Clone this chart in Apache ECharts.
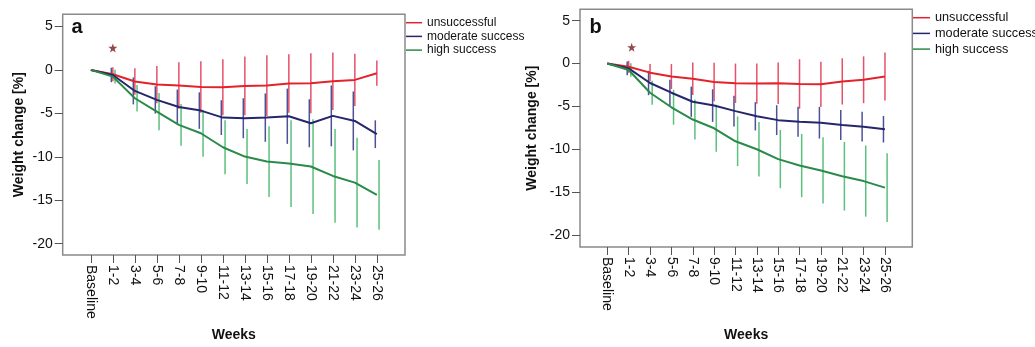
<!DOCTYPE html>
<html>
<head>
<meta charset="utf-8">
<script src="https://cdn.jsdelivr.net/npm/echarts@6/dist/echarts.min.js"></script>
<style>
html,body{margin:0;padding:0;background:#fff;}
#chart{width:1035px;height:347px;}
</style>
</head>
<body>
<div id="chart"></div>
<script>
// ---- data ----
const categories = ['Baseline','1-2','3-4','5-6','7-8','9-10','11-12','13-14','15-16','17-18','19-20','21-22','23-24','25-26'];
const yTicks = [-20, -15, -10, -5, 0, 5];
const seriesNames = ['unsuccessful', 'moderate success', 'high success'];

// panel a
const aUnsuccessful    = [0, -0.5, -1.34, -1.69, -1.8, -1.96, -2.0, -1.84, -1.8, -1.57, -1.53, -1.3, -1.15, -0.38];
const aUnsuccessfulErr = [0, 0.8, 1.53, 2.15, 2.68, 2.96, 3.23, 3.37, 3.5, 3.37, 3.45, 3.3, 3.0, 1.45];
const aModerate        = [0, -0.58, -2.42, -3.45, -4.26, -4.68, -5.49, -5.56, -5.49, -5.33, -6.14, -5.29, -5.87, -7.4];
const aModerateErr     = [0, 0.83, 1.55, 1.57, 2.0, 2.1, 2.0, 2.3, 2.78, 3.18, 2.76, 3.5, 3.39, 1.6];
const aHigh            = [0, -0.77, -3.26, -4.8, -6.33, -7.29, -8.9, -9.97, -10.55, -10.78, -11.12, -12.2, -12.97, -14.38];
const aHighErr         = [0, 0.8, 1.53, 2.13, 2.4, 2.7, 3.1, 3.16, 4.08, 5.0, 5.45, 5.39, 5.16, 4.0];
const aStar            = [1, 2.53];

// panel b
const bUnsuccessful    = [0, -0.38, -1.06, -1.51, -1.77, -2.15, -2.3, -2.34, -2.3, -2.38, -2.42, -2.08, -1.89, -1.51];
const bUnsuccessfulErr = [0, 0.7, 1.0, 1.45, 1.9, 2.25, 2.3, 2.36, 2.43, 2.89, 2.64, 2.7, 2.73, 2.8];
const bModerate        = [0, -0.57, -2.27, -3.4, -4.45, -4.9, -5.55, -6.15, -6.6, -6.8, -6.9, -7.17, -7.36, -7.66];
const bModerateErr     = [0, 0.8, 1.42, 1.51, 1.76, 1.9, 1.8, 1.65, 1.74, 1.75, 1.85, 1.74, 1.74, 1.55];
const bHigh            = [0, -0.75, -3.4, -5.1, -6.53, -7.55, -9.07, -10.0, -11.15, -11.9, -12.47, -13.15, -13.71, -14.47];
const bHighErr         = [0, 0.8, 1.4, 2.04, 2.33, 2.74, 2.9, 3.17, 3.4, 3.68, 3.86, 4.0, 4.15, 4.0];
const bStar            = [1.14, 1.9];

// ---- styles ----
const FONT = "'Liberation Sans', Arial, sans-serif";
const lineColors = ['#e3232b', '#25266c', '#2a8a4a'];
const errColors  = ['#e6506a', '#4d5294', '#5cc07e'];
const errOffsets = [0, -0.07, 0.1];
const STAR_PATH = 'path://M50,0 L61.76,33.82 L97.55,34.55 L69.02,56.18 L79.39,90.45 L50,70 L20.61,90.45 L30.98,56.18 L2.45,34.55 L38.24,33.82 Z';

const tickIdx = categories.map((c, i) => i);

function xAxisFor(gi, nameGap) {
  return {
    type: 'value', gridIndex: gi, min: -1.28, max: 14.28,
    axisLine: { show: false, onZero: false },
    splitLine: { show: false },
    axisTick: { show: true, customValues: tickIdx, length: 8, lineStyle: { color: '#555', width: 1 } },
    axisLabel: {
      customValues: tickIdx, rotate: -90, margin: 10,
      fontSize: 14, fontFamily: FONT, color: '#111',
      formatter: v => categories[Math.round(v)]
    },
    name: 'Weeks', nameLocation: 'middle', nameGap: nameGap,
    nameTextStyle: { fontSize: 14, fontWeight: 'bold', fontFamily: FONT, color: '#111' }
  };
}
function yAxisFor(gi, min, max, nameGap) {
  return {
    type: 'value', gridIndex: gi, min: min, max: max,
    axisLine: { show: false, onZero: false },
    splitLine: { show: false },
    axisTick: { show: true, customValues: yTicks, length: 8, lineStyle: { color: '#555', width: 1 } },
    axisLabel: { customValues: yTicks, margin: 10, fontSize: 14, fontFamily: FONT, color: '#111' },
    name: 'Weight change [%]', nameLocation: 'middle', nameGap: nameGap,
    nameTextStyle: { fontSize: 14, fontWeight: 'bold', fontFamily: FONT, color: '#111' }
  };
}

function errSeries(gi, k, means, errs) {
  const off = errOffsets[k];
  const data = [];
  means.forEach((m, i) => { if (errs[i] > 0) data.push([i, m, errs[i]]); });
  return {
    type: 'custom', name: 'err-' + gi + '-' + k, xAxisIndex: gi, yAxisIndex: gi, z: 1,
    silent: true,
    encode: { x: 0, y: 1 },
    data: data,
    renderItem: function (params, api) {
      const x = api.value(0) + off, m = api.value(1), h = api.value(2);
      const p1 = api.coord([x, m + h]);
      const p2 = api.coord([x, m - h]);
      return {
        type: 'line',
        shape: { x1: p1[0], y1: p1[1], x2: p2[0], y2: p2[1] },
        style: { stroke: errColors[k], lineWidth: 1.5 }
      };
    }
  };
}
function lineSeries(gi, k, means) {
  return {
    type: 'line', name: seriesNames[k], xAxisIndex: gi, yAxisIndex: gi, z: 3,
    data: means.map((v, i) => [i, v]),
    showSymbol: false, symbol: 'none',
    lineStyle: { color: lineColors[k], width: 2 },
    itemStyle: { color: lineColors[k] },
    animation: false
  };
}
function starSeries(gi, pt) {
  return {
    type: 'scatter', name: 'star-' + gi, xAxisIndex: gi, yAxisIndex: gi, z: 4,
    data: [pt], symbol: STAR_PATH, symbolSize: 9,
    itemStyle: { color: '#7a1a1e' }, silent: true
  };
}

const panels = [
  { means: [aUnsuccessful, aModerate, aHigh], errs: [aUnsuccessfulErr, aModerateErr, aHighErr], star: aStar },
  { means: [bUnsuccessful, bModerate, bHigh], errs: [bUnsuccessfulErr, bModerateErr, bHighErr], star: bStar }
];

const series = [];
panels.forEach((p, gi) => {
  for (let k = 0; k < 3; k++) series.push(errSeries(gi, k, p.means[k], p.errs[k]));
  for (let k = 0; k < 3; k++) series.push(lineSeries(gi, k, p.means[k]));
  series.push(starSeries(gi, p.star));
});

const option = {
  animation: false,
  backgroundColor: '#fff',
  grid: [
    { left: 62.7, top: 14.3, width: 342.3, height: 240.7, show: true, borderColor: '#8a8a8a', borderWidth: 1.5, backgroundColor: 'transparent' },
    { left: 580, top: 9.3, width: 332.3, height: 244.7, show: true, borderColor: '#8a8a8a', borderWidth: 1.5, backgroundColor: 'transparent' }
  ],
  xAxis: [xAxisFor(0, 73), xAxisFor(1, 81)],
  yAxis: [yAxisFor(0, -21.3, 6.4, 37), yAxisFor(1, -21.4, 6.33, 41)],
  legend: [
    {
      orient: 'vertical', left: 406, top: 15.85, padding: 0, itemGap: 0,
      icon: 'rect', itemWidth: 16, itemHeight: 1.5,
      data: seriesNames,
      textStyle: { fontSize: 12, lineHeight: 13.7, fontFamily: FONT, color: '#111' }
    },
    {
      orient: 'vertical', left: 913, top: 9.85, padding: 0, itemGap: 0,
      icon: 'rect', itemWidth: 17, itemHeight: 1.5,
      data: seriesNames,
      textStyle: { fontSize: 12.7, lineHeight: 15.7, fontFamily: FONT, color: '#111' }
    }
  ],
  graphic: [
    { type: 'text', left: 71.5, top: 17, style: { text: 'a', font: 'bold 20px ' + FONT, fill: '#111' } },
    { type: 'text', left: 589.5, top: 17, style: { text: 'b', font: 'bold 20px ' + FONT, fill: '#111' } }
  ],
  series: series
};

const chart = echarts.init(document.getElementById('chart'), null, { renderer: 'canvas' });
chart.setOption(option);
</script>
</body>
</html>
